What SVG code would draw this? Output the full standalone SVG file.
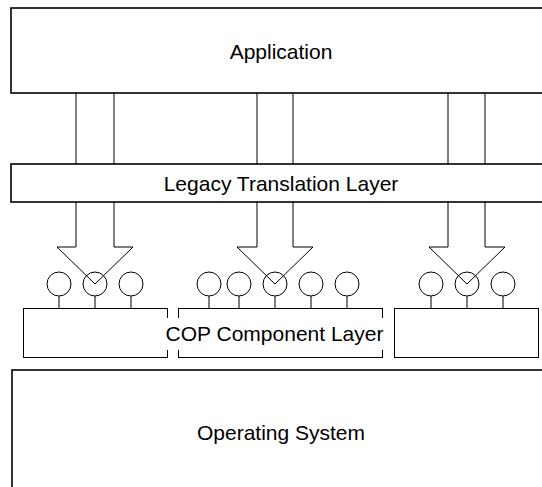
<svg xmlns="http://www.w3.org/2000/svg" width="542" height="487" viewBox="0 0 542 487">
  <style>
    .layer { fill: #ffffff; stroke: #000000; stroke-width: 1.6; }
    .box { fill: #ffffff; stroke: #000000; stroke-width: 1; }
    .link { fill: none; stroke: #000000; stroke-width: 1; }
    .port { fill: none; stroke: #000000; stroke-width: 1; }
    .label { font-family: "Liberation Sans", Arial, sans-serif; font-size: 21px; fill: #000000; text-anchor: middle; }
  </style>
  <rect width="542" height="487" fill="#ffffff"/>

  <!-- top layer -->
  <g id="application">
    <rect class="layer" x="11" y="8" width="545" height="85"/>
    <text class="label" x="281" y="59">Application</text>
  </g>

  <!-- calls from the application down to the translation layer -->
  <g id="connectors">
    <line class="link" x1="76" y1="93" x2="76" y2="164"/>
    <line class="link" x1="114" y1="93" x2="114" y2="164"/>
    <line class="link" x1="257" y1="93" x2="257" y2="164"/>
    <line class="link" x1="293" y1="93" x2="293" y2="164"/>
    <line class="link" x1="448" y1="93" x2="448" y2="164"/>
    <line class="link" x1="485" y1="93" x2="485" y2="164"/>
    <!-- block arrows into the component interfaces -->
    <polyline class="link" points="76,202 76,247 57,247 95,284 133,247 114,247 114,202"/>
    <polyline class="link" points="257,202 257,247 237,247 275,284 313,247 293,247 293,202"/>
    <polyline class="link" points="448,202 448,247 429,247 467,284 505,247 485,247 485,202"/>
  </g>

  <g id="legacy-translation">
    <rect class="layer" x="11" y="164" width="545" height="38"/>
    <text class="label" x="281" y="191">Legacy Translation Layer</text>
  </g>

  <!-- component interfaces (lollipops) -->
  <g id="interfaces">
    <g class="port">
      <circle cx="59" cy="284" r="12"/><line x1="59" y1="296" x2="59" y2="309"/>
      <circle cx="95" cy="284" r="12"/><line x1="95" y1="296" x2="95" y2="309"/>
      <circle cx="131" cy="284" r="12"/><line x1="131" y1="296" x2="131" y2="309"/>

      <circle cx="209" cy="284" r="12"/><line x1="209" y1="296" x2="209" y2="309"/>
      <circle cx="239" cy="284" r="12"/><line x1="239" y1="296" x2="239" y2="309"/>
      <circle cx="275" cy="284" r="12"/><line x1="275" y1="296" x2="275" y2="309"/>
      <circle cx="311" cy="284" r="12"/><line x1="311" y1="296" x2="311" y2="309"/>
      <circle cx="347" cy="284" r="12"/><line x1="347" y1="296" x2="347" y2="309"/>

      <circle cx="431" cy="284" r="12"/><line x1="431" y1="296" x2="431" y2="309"/>
      <circle cx="467" cy="284" r="12"/><line x1="467" y1="296" x2="467" y2="309"/>
      <circle cx="503" cy="284" r="12"/><line x1="503" y1="296" x2="503" y2="309"/>
    </g>
  </g>

  <g id="cop-components">
    <rect id="component-1" class="box" x="23.5" y="308.5" width="144" height="49"/>
    <rect id="component-2" class="box" x="178.5" y="308.5" width="204" height="49"/>
    <rect id="component-3" class="box" x="394.5" y="308.5" width="144" height="49"/>
    <rect x="163" y="318" width="223" height="32" fill="#ffffff"/>
    <text class="label" x="274.5" y="341">COP Component Layer</text>
  </g>

  <g id="operating-system">
    <rect class="layer" x="12" y="370" width="545" height="130"/>
    <text class="label" x="281" y="440">Operating System</text>
  </g>
</svg>
